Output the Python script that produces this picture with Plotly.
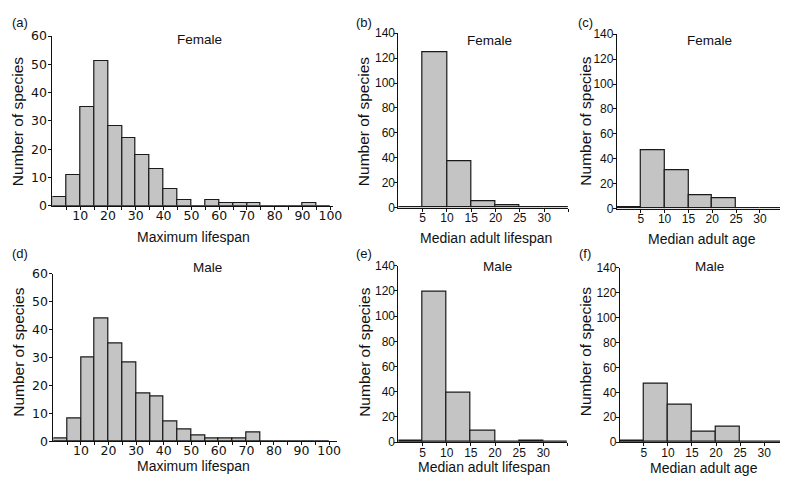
import plotly.graph_objects as go

W, H = 789, 485

# ---- data ----
lifespan_bins = [0, 5, 10, 15, 20, 25, 30, 35, 40, 45, 50, 55, 60, 65, 70, 75, 80, 85, 90, 95]
female_max_lifespan = [3, 11, 35, 51, 28, 24, 18, 13, 6, 2, 0, 2, 1, 1, 1, 0, 0, 0, 1, 0]
male_max_lifespan = [1, 8, 30, 44, 35, 28, 17, 16, 7, 4, 2, 1, 1, 1, 3, 0, 0, 0, 0, 0]

median_bins = [0, 5, 10, 15, 20, 25, 30]
female_median_lifespan = [0, 125, 37, 5, 2, 0, 0]
male_median_lifespan = [1, 119, 39, 9, 0, 1, 0]
female_median_age = [1, 47, 31, 11, 8, 0, 0]
male_median_age = [1, 47, 30, 8, 12, 0, 0]

max_ticks = [5, 10, 15, 20, 25, 30, 35, 40, 45, 50, 55, 60, 65, 70, 75, 80, 85, 90, 95, 100]
max_ticklabels = ["", "10", "", "20", "", "30", "", "40", "", "50", "", "60", "", "70", "", "80", "", "90", "", "100"]
med_ticks = [5, 10, 15, 20, 25, 30, 35]
med_ticklabels = ["5", "10", "15", "20", "25", "30", ""]

BIN_W = 5
FILL = "#c4c4c4"
EDGE = "#1a1a1a"

def px_x(p):
    return p / W

def px_y(p):
    return 1 - p / H

panels = [
    ("", lifespan_bins, female_max_lifespan, (53, 337), (204, 29), [0, 101], 60, 10, True, max_ticks, max_ticklabels),
    ("2", median_bins, female_median_lifespan, (403, 575), (206, 26), [0, 35], 140, 20, False, med_ticks, med_ticklabels),
    ("3", median_bins, female_median_age, (624, 789), (207, 27), [0, 34.2], 140, 20, False, med_ticks, med_ticklabels),
    ("4", lifespan_bins, male_max_lifespan, (54, 341), (447, 274), [0, 102.9], 60, 10, True, max_ticks, max_ticklabels),
    ("5", median_bins, male_median_lifespan, (403, 574), (448, 266), [0, 35], 140, 20, False, med_ticks, med_ticklabels),
    ("6", median_bins, male_median_age, (627, 789), (448, 268), [0, 33.3], 140, 20, False, med_ticks, med_ticklabels),
]

fig = go.Figure()
layout = dict(
    width=W, height=H,
    margin=dict(l=0, r=0, t=0, b=0),
    paper_bgcolor="white", plot_bgcolor="white",
    showlegend=False,
    bargap=0,
)

for key, bins, vals, xp, yp, xr, ymax, yd, wide, tv, tt in panels:
    centers = [b + BIN_W / 2 for b in bins]
    fig.add_trace(go.Bar(
        x=centers, y=vals, width=BIN_W,
        marker=dict(color=FILL, line=dict(color=EDGE, width=1.2)),
        xaxis="x" + key, yaxis="y" + key,
    ))
    if wide:
        tickfont = dict(family="DejaVu Sans", size=12.5, color="#111")
        ystand = -1
        xstand = -5
    else:
        tickfont = dict(family="Liberation Sans", size=12, color="#111")
        ystand = -3
        xstand = -4
    layout["xaxis" + key] = dict(
        domain=[px_x(xp[0]), px_x(xp[1])], range=xr, anchor="y" + key,
        showline=True, linecolor="#111", linewidth=1, showgrid=False, zeroline=False,
        ticks="outside", ticklen=3, tickcolor="#111", tickwidth=1,
        tickmode="array", tickvals=tv, ticktext=tt, tickfont=tickfont,
        ticklabelstandoff=xstand,
    )
    layout["yaxis" + key] = dict(
        domain=[px_y(yp[0]), px_y(yp[1])], range=[0, ymax], anchor="x" + key,
        showline=True, linecolor="#111", linewidth=1, showgrid=False, zeroline=False,
        ticks="outside", ticklen=3, tickcolor="#111", tickwidth=1,
        dtick=yd, tick0=0, tickfont=tickfont, ticklabelstandoff=ystand,
    )

fig.update_layout(**layout)

TXT = "#111"
def ann(x, y, text, size, rot=0, family="Liberation Sans"):
    fig.add_annotation(x=px_x(x), y=px_y(y), xref="paper", yref="paper",
                       text=text, showarrow=False, textangle=rot,
                       xanchor="center", yanchor="middle",
                       font=dict(family=family, size=size, color=TXT))

# panel letters
for x, y, t in [(20, 15, "(a)"), (368, 15, "(b)"), (592, 15, "(c)"),
                (20, 253, "(d)"), (368, 253, "(e)"), (592, 253, "(f)")]:
    ann(x, y, t, 13)

# sex labels
for x, y, t in [(202, 33, "Female"), (495, 34, "Female"), (718, 34, "Female"),
                (210, 268, "Male"), (503, 267, "Male"), (718, 267, "Male")]:
    ann(x, y, t, 13.5)

# y titles
for x, y in [(18, 117), (368, 117), (592, 117), (18, 355), (368, 355), (592, 355)]:
    ann(x, y, "Number of species", 15.5, rot=-90)

# x titles
for x, y, t in [(196, 236, "Maximum lifespan"), (492, 237, "Median adult lifespan"),
                (710, 238, "Median adult age"), (196, 473, "Maximum lifespan"),
                (490, 474, "Median adult lifespan"), (712, 475, "Median adult age")]:
    ann(x, y, t, 14)

fig.write_html("out.html")
